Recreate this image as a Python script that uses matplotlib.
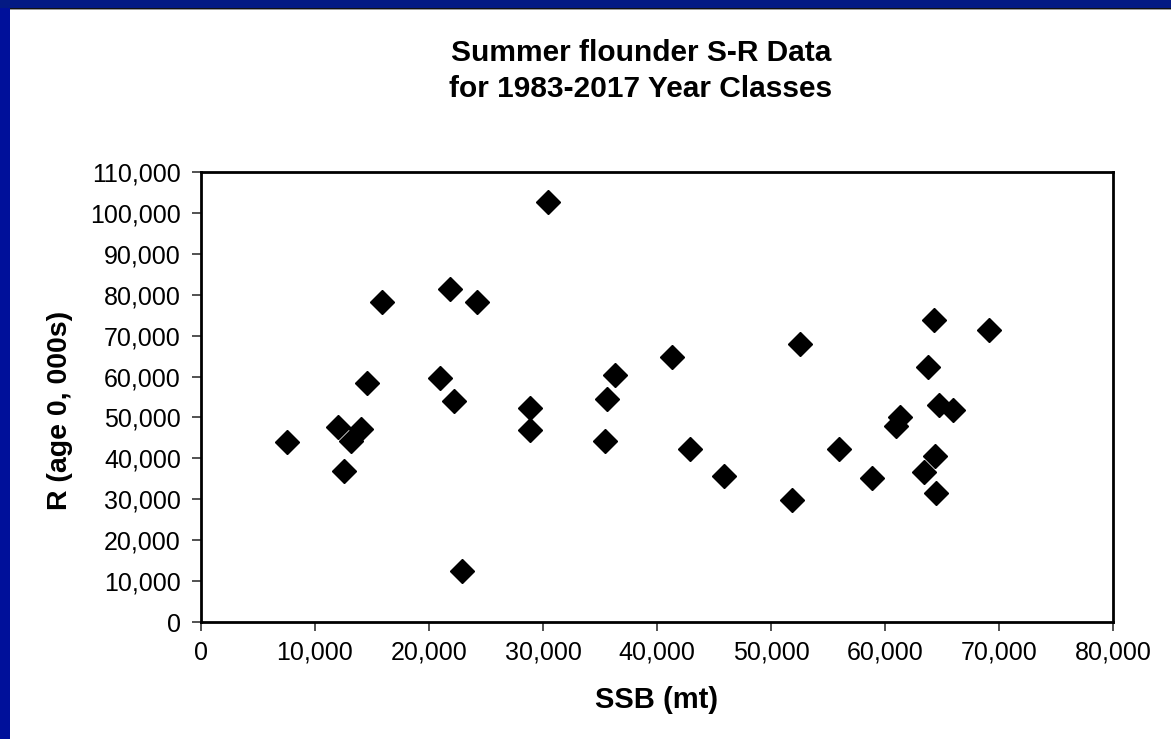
import matplotlib.pyplot as plt
from matplotlib.patches import Rectangle
from matplotlib.ticker import FuncFormatter, MultipleLocator

plt.rcParams['font.family'] = ['Liberation Sans', 'DejaVu Sans']

# spawning stock biomass (mt) and recruits (age 0, 000s), 1983-2017 year classes
ssb = [7500, 12000, 12500, 13200, 14000, 14600, 15900, 21000, 21800, 22200,
       22900, 24200, 28900, 28900, 30400, 35400, 35600, 36300, 41300, 42900,
       45900, 51800, 52500, 56000, 58900, 61000, 61300, 63400, 63800, 64300,
       64400, 64500, 64700, 66000, 69100]
recruits = [44000, 47700, 37000, 44300, 47200, 58400, 78200, 59600, 81400, 54000,
            12500, 78200, 52300, 47000, 102700, 44200, 54500, 60400, 64800, 42300,
            35700, 29800, 68000, 42300, 35200, 48000, 50100, 36700, 62300, 73800,
            40600, 31500, 53000, 51800, 71400]

fig = plt.figure(figsize=(11.71, 7.39), dpi=100)
fig.patch.set_facecolor('white')

# slide frame: blue bars on left and top
fig.patches.append(Rectangle((0, 0), 10 / 1171, 1, transform=fig.transFigure,
                             facecolor='#00109A', edgecolor='none', zorder=0))
fig.patches.append(Rectangle((0, 1 - 8 / 739), 1, 8 / 739, transform=fig.transFigure,
                             facecolor='#041A84', edgecolor='none', zorder=0))
fig.patches.append(Rectangle((10 / 1171, 1 - 9 / 739), 1, 1 / 739, transform=fig.transFigure,
                             facecolor='#111111', edgecolor='none', zorder=0))
fig.patches.append(Rectangle((10 / 1171, 1 - 10 / 739), 1, 1 / 739, transform=fig.transFigure,
                             facecolor='#999999', edgecolor='none', zorder=0))

ax = fig.add_axes([201 / 1171, 1 - 622 / 739, (1113 - 201) / 1171, (622 - 172) / 739])
ax.plot(ssb, recruits, linestyle='none', marker='D', markersize=12.5,
        color='black', markeredgecolor='black', clip_on=False)

ax.set_xlim(0, 80000)
ax.set_ylim(0, 110000)
ax.xaxis.set_major_locator(MultipleLocator(10000))
ax.yaxis.set_major_locator(MultipleLocator(10000))
fmt = FuncFormatter(lambda v, p: f'{int(v):,}')
ax.xaxis.set_major_formatter(fmt)
ax.yaxis.set_major_formatter(fmt)

for s in ax.spines.values():
    s.set_linewidth(2)
ax.tick_params(direction='out', length=6.5, width=1.2, labelsize=18, color='#333333')
ax.tick_params(axis='y', pad=8)
ax.tick_params(axis='x', pad=7)

ax.set_xlabel('SSB (mt)', fontsize=21, fontweight='bold', labelpad=15)
ax.set_ylabel('R (age 0, 000s)', fontsize=20.5, fontweight='bold', labelpad=12, y=0.47)

fig.text(641 / 1171, 1 - 71 / 739, 'Summer flounder S-R Data\nfor 1983-2017 Year Classes',
         ha='center', va='center', fontsize=21.5, fontweight='bold', linespacing=1.32)

fig.savefig('out.png', dpi=100)
